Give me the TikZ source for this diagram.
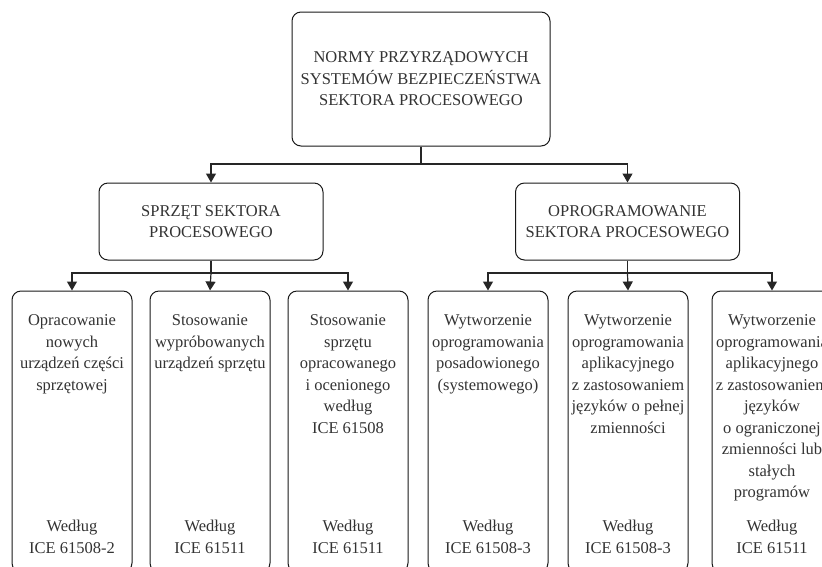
\documentclass[tikz,border=0pt]{standalone}
\usepackage{fontspec}
\setmainfont{Liberation Serif}
\usetikzlibrary{positioning,arrows.meta}

\begin{document}
\begin{tikzpicture}[
  x=1pt, y=-1pt, font=\fontsize{16.5}{21.5}\selectfont,
  >={Triangle[width=10pt,length=9pt]},
  b/.style={draw=black!90, line width=1pt, rounded corners=9pt, align=center,
            text=black!80, fill=white, inner sep=2pt},
  root/.style={b, minimum width=258pt, minimum height=134pt},
  mid/.style={b, minimum width=224pt, minimum height=77pt},
  leaf/.style={b, minimum width=120pt, minimum height=281pt},
  % text inside the tall boxes: one block at the top, one at the bottom
  txt/.style={align=center, text=black!80, inner sep=0pt},
  ar/.style={->, line width=1.2pt, black!85},
  ln/.style={line width=1.2pt, black!85}]
\clip (0,0) rectangle (822,566);

% ================= level 0 =================
\node[root] (norm) at (421,79)
  {NORMY PRZYRZĄDOWYCH\\SYSTEMÓW BEZPIECZEŃSTWA\\SEKTORA PROCESOWEGO};

% ================= level 1 =================
\node[mid] (hw) at (211,221.5) {SPRZĘT SEKTORA\\PROCESOWEGO};
\node[mid] (sw) at (627.5,221.5) {OPROGRAMOWANIE\\SEKTORA PROCESOWEGO};

\coordinate (j0) at (norm.south |- 0,164);
\draw[ln] (norm.south) -- (j0);
\draw[ar] (j0) -| (hw.north);
\draw[ar] (j0) -| (sw.north);

% ================= level 2: hardware =================
\node[leaf] (h1) at (72,431.5) {};
\node[leaf] (h2) at (210,431.5) {};
\node[leaf] (h3) at (348,431.5) {};

\node[txt, below=24pt of h1.north] {Opracowanie\\nowych\\urządzeń części\\sprzętowej};
\node[txt, below=24pt of h2.north] {Stosowanie\\wypróbowanych\\urządzeń sprzętu};
\node[txt, below=24pt of h3.north]
  {Stosowanie\\sprzętu\\opracowanego\\i ocenionego\\według\\ICE 61508};
\node[txt, above=19pt of h1.south] {Według\\ICE 61508-2};
\node[txt, above=19pt of h2.south] {Według\\ICE 61511};
\node[txt, above=19pt of h3.south] {Według\\ICE 61511};

\coordinate (j1) at (hw.south |- 0,273);
\draw[ln] (hw.south) -- (j1);
\draw[ar] (j1) -| (h1.north);
\draw[ar] (j1) -- (h2.north);
\draw[ar] (j1) -| (h3.north);

% ================= level 2: software =================
\node[leaf] (s1) at (488,431.5) {};
\node[leaf] (s2) at (628,431.5) {};
\node[leaf] (s3) at (772,431.5) {};

\node[txt, below=24pt of s1.north]
  {Wytworzenie\\oprogramowania\\posadowionego\\(systemowego)};
\node[txt, below=24pt of s2.north]
  {Wytworzenie\\oprogramowania\\aplikacyjnego\\z zastosowaniem\\języków o pełnej\\zmienności};
\node[txt, below=24pt of s3.north]
  {Wytworzenie\\oprogramowania\\aplikacyjnego\\z zastosowaniem\\języków\\o ograniczonej\\zmienności lub\\stałych\\programów};
\node[txt, above=19pt of s1.south] {Według\\ICE 61508-3};
\node[txt, above=19pt of s2.south] {Według\\ICE 61508-3};
\node[txt, above=19pt of s3.south] {Według\\ICE 61511};

\coordinate (j2) at (sw.south |- 0,273);
\draw[ln] (sw.south) -- (j2);
\draw[ar] (j2) -| (s1.north);
\draw[ar] (j2) -- (s2.north);
\draw[ar] (j2) -| (s3.north);
\end{tikzpicture}
\end{document}
